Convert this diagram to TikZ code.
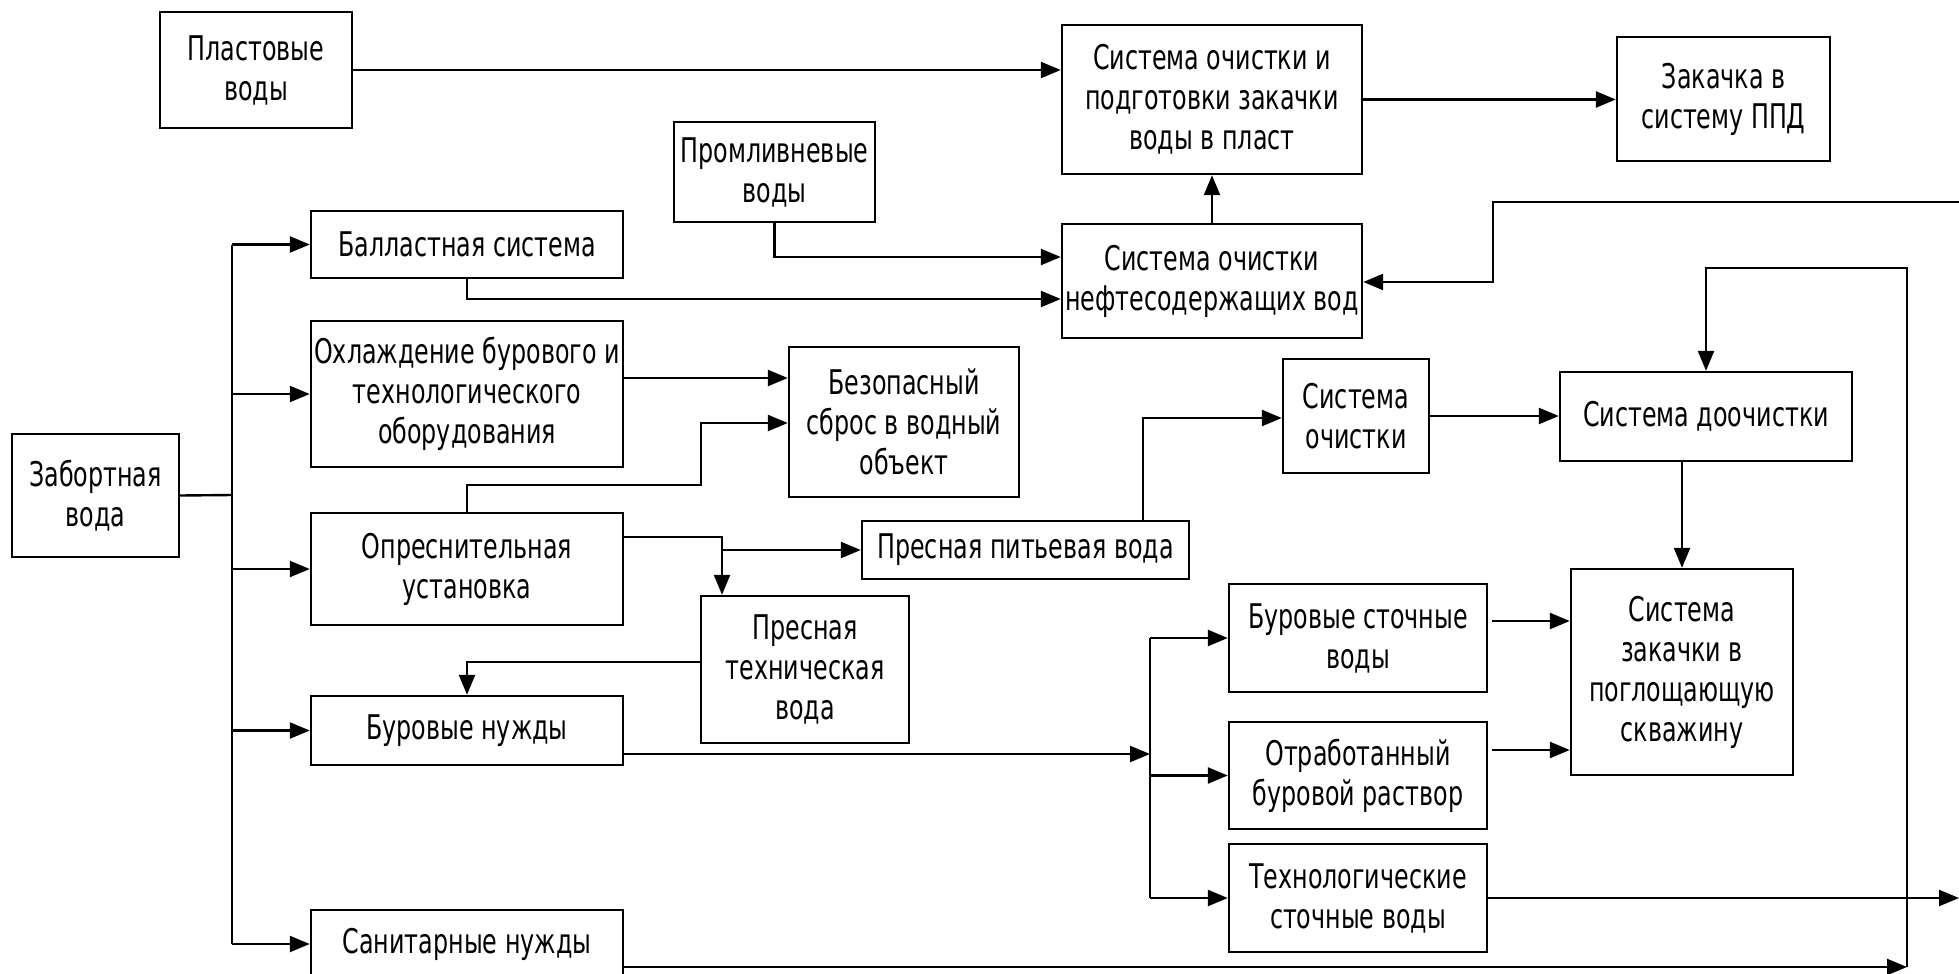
\documentclass[tikz,border=0pt]{standalone}
\usepackage{fontspec}
\setmainfont{DejaVu Sans}[FakeStretch=0.7]
\usetikzlibrary{arrows.meta,calc}
\begin{document}
\begin{tikzpicture}[x=0.5pt,y=-0.5pt,line width=1.2pt,
  blk/.style={draw,rectangle,align=center,inner sep=0pt,font=\fontsize{17}{20}\selectfont},
  arr/.style={-{Triangle[length=10pt,width=8pt]}}]
\useasboundingbox (0,0) rectangle (1959,974);
\clip (0,0) rectangle (1959,974);
% boxes
\node[blk,minimum width=96pt,minimum height=58pt] (plast) at (256,70) {Пластовые\\воды};
\node[blk,minimum width=156pt,minimum height=33.5pt] (ballast) at (467,244.5) {Балластная система};
\node[blk,minimum width=156pt,minimum height=73pt] (ohl) at (467,394) {Охлаждение бурового и\\технологического\\оборудования};
\node[blk,minimum width=83.5pt,minimum height=61.5pt] (zabor) at (95.5,495.5) {Забортная\\вода};
\node[blk,minimum width=156pt,minimum height=56pt] (opres) at (467,569) {Опреснительная\\установка};
\node[blk,minimum width=156pt,minimum height=34.5pt] (burn) at (467,730.5) {Буровые нужды};
\node[blk,minimum width=156pt,minimum height=34pt] (sanit) at (467,944) {Санитарные нужды};
\node[blk,minimum width=150pt,minimum height=74.5pt] (ochpod) at (1212,99.5) {Система очистки и\\подготовки закачки\\воды в пласт};
\node[blk,minimum width=106.5pt,minimum height=62pt] (ppd) at (1723.5,99) {Закачка в\\систему ППД};
\node[blk,minimum width=100.5pt,minimum height=50pt] (proml) at (774.5,172) {Промливневые\\воды};
\node[blk,minimum width=150pt,minimum height=57pt] (neft) at (1212,281) {Система очистки\\нефтесодержащих вод};
\node[blk,minimum width=115pt,minimum height=75pt] (bez) at (904,422) {Безопасный\\сброс в водный\\объект};
\node[blk,minimum width=73pt,minimum height=57pt] (och) at (1356,416) {Система\\очистки};
\node[blk,minimum width=146pt,minimum height=44.5pt] (dooch) at (1706,416.5) {Система доочистки};
\node[blk,minimum width=163.5pt,minimum height=29pt] (pit) at (1025.5,550) {Пресная питьевая вода};
\node[blk,minimum width=104pt,minimum height=73.5pt] (teh) at (805,669.5) {Пресная\\техническая\\вода};
\node[blk,minimum width=129pt,minimum height=54pt] (bsv) at (1358,638) {Буровые сточные\\воды};
\node[blk,minimum width=129pt,minimum height=53.5pt] (otr) at (1358,775.5) {Отработанный\\буровой раствор};
\node[blk,minimum width=129pt,minimum height=54pt] (tsv) at (1358,898) {Технологические\\сточные воды};
\node[blk,minimum width=111pt,minimum height=103pt] (zak) at (1682,672) {Система\\закачки в\\поглощающую\\скважину};
% free ends
\coordinate (tr) at (232,495);
\coordinate (dv) at (1150,754);
\coordinate (e1) at (1959,898);
\coordinate (e2) at (1959,202);
\coordinate (rt) at (1493,202);
\coordinate (lp) at (1907,967);
\coordinate (lt) at (1907,268);
\coordinate (tj) at ($(teh.north)+(-83,0)$);
% connectors
\draw[arr] (plast.east) -- (plast.east -| ochpod.west);
\draw[arr] (ochpod.east) -- (ochpod.east -| ppd.west);
\draw (zabor.east) -- (tr);
\draw (tr |- ballast.west) -- (tr |- sanit.west);
\draw[arr] (tr |- ballast.west) -- (ballast.west);
\draw[arr] (tr |- ohl.west) -- (ohl.west);
\draw[arr] (tr |- opres.west) -- (opres.west);
\draw[arr] (tr |- burn.west) -- (burn.west);
\draw[arr] (tr |- sanit.west) -- (sanit.west);
\draw[arr] (ballast.south) |- ($(neft.west)+(0,18)$);
\draw[arr] (proml.south) |- ($(neft.west)+(0,-24)$);
\draw[arr] (neft.north) -- (ochpod.south);
\draw[arr] ($(ohl.east)+(0,-16)$) -- ($(bez.west)+(0,-44)$);
\draw[arr] (opres.north) -- ++(0,-27) -- ++(234,0) |- ($(bez.west)+(0,1)$);
\draw[arr] ($(opres.east)+(0,-32)$) -| (tj);
\draw[arr] (tj |- pit.west) -- (pit.west);
\draw[arr] ($(pit.north)+(117.5,0)$) |- ($(och.west)+(0,2)$);
\draw[arr] (och.east) -- (och.east -| dooch.west);
\draw[arr] (zak.north |- dooch.south) -- (zak.north);
\draw[arr] ($(teh.west)+(0,-7.5)$) -| (burn.north);
\draw[arr] ($(burn.east)+(0,23.5)$) -- (dv);
\draw (dv |- bsv.west) -- (dv |- tsv.west);
\draw[arr] (dv |- bsv.west) -- (bsv.west);
\draw[arr] (dv |- otr.west) -- (otr.west);
\draw[arr] (dv |- tsv.west) -- (tsv.west);
\draw[arr] ($(bsv.east)+(4,-17)$) -- ($(zak.west)+(0,-51)$);
\draw[arr] ($(otr.east)+(4,-25.5)$) -- ($(zak.west)+(0,78)$);
\draw[arr] (tsv.east) -- (e1);
\draw[arr] ($(sanit.east)+(0,23)$) -- (lp);
\draw[arr] (lp) -- (lt) -| (dooch.north);
\draw[arr] (e2) -- (rt) |- ($(neft.east)+(0,1)$);
\end{tikzpicture}
\end{document}
